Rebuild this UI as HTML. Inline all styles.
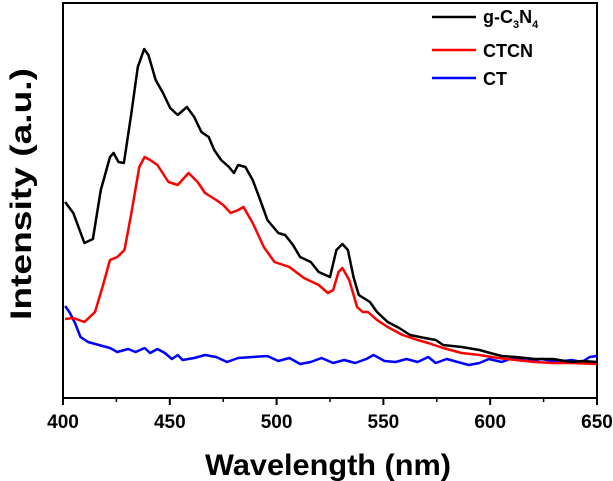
<!DOCTYPE html>
<html><head><meta charset="utf-8"><style>
body{margin:0;background:#fff;}
svg{display:block;font-family:"Liberation Sans",Arial,sans-serif;font-weight:bold;}
</style></head><body>
<svg id="chart" width="613" height="481" viewBox="0 0 613 481" xmlns="http://www.w3.org/2000/svg">
<rect x="63" y="3" width="534" height="395" fill="none" stroke="#000" stroke-width="2"/>
<g id="ticks"></g>
<g id="series"></g>
<text transform="translate(31,194) rotate(-90)" text-anchor="middle" font-size="30" textLength="252" lengthAdjust="spacingAndGlyphs">Intensity (a.u.)</text>
<text x="328" y="475" text-anchor="middle" font-size="30" textLength="246" lengthAdjust="spacingAndGlyphs">Wavelength (nm)</text>
<g>
<line x1="432" y1="17" x2="476" y2="17" stroke="#000" stroke-width="2.5"/>
<text x="483" y="23" font-size="18">g-C<tspan font-size="11" dy="5">3</tspan><tspan dy="-5">N</tspan><tspan font-size="11" dy="5">4</tspan></text>
<line x1="432" y1="50" x2="476" y2="50" stroke="#f00" stroke-width="2.5"/>
<text x="483" y="57" font-size="18">CTCN</text>
<line x1="432" y1="78" x2="476" y2="78" stroke="#00f" stroke-width="2.5"/>
<text x="483" y="85" font-size="18">CT</text>
</g>
</svg>
<script>
const xTicks=[400,450,500,550,600,650];
const xMinor=[425,475,525,575,625];
const wlBlack=[401,404.8,410,414,417.7,422,423.7,426,428.5,432,435,438,440,443.4,446.8,450.2,453.7,458,461.4,464.8,468.2,470.8,474,477.7,480,482,485.4,488.8,492.3,495.7,500.8,504,507.7,511,516,519.7,525,528,530.8,533.4,536,538.5,543.7,547,552,557.4,562.5,569.4,574.5,578,586.6,595,600,605.4,612,620.8,629.4,638,643,650];
const intBlack=[196,185,155,159,208,241,245,236,235,285,331,349,343,318,305,290,283,291,281,266,261,248,238,231,225,233,231,218,198,178,165,163,153,141,136,126,121,148,154,148,121,103,96,86,76,70,63,60,58,53,51,48,45,42,41,39,39,36,37,36];
const wlRed=[401,404.8,410,415,418.5,422,425.4,428.8,432,435.7,438.2,440.8,444.2,449.4,453.7,458.8,463,466.5,471.7,475,478.5,482,484.5,488.8,494,499,506,512.8,519.7,524,526.5,529,530.8,534,537.7,540.3,542.8,547,552,559,566,571,578,586.6,595,603.7,612,620.8,629.4,638,650];
const intRed=[79,80,76,86,111,138,141,148,185,231,241,238,233,216,213,225,216,205,198,193,185,188,191,175,151,136,131,120,113,105,108,126,130,118,91,86,86,78,71,63,58,55,50,45,43,40,38,36,35,35,34];
const wlBlue=[401,403,405.6,408.2,411.7,416.8,422,425.4,430.5,434,438.2,440.8,444.2,447.7,451,453.7,456,461.4,466.5,471.7,476.8,482,488.8,495.7,500.8,506,511,516,521,526.5,531.7,536.8,542,545.4,550.5,555.7,560.8,566,571,574.5,579.7,584.8,590,595,599.4,605.4,610.6,617.4,624.3,631,638,643,646.6,650];
const intBlue=[92,86,75,61,56,53,50,46,49,46,50,45,49,45,39,43,38,40,43,41,36,40,41,42,37,40,34,36,40,35,38,35,39,43,37,36,39,36,41,35,39,36,33,35,39,36,40,37,39,36,38,36,41,42];
const NS='http://www.w3.org/2000/svg';
const xS=w=>63+(w-400)*(534/250);
const yS=v=>398-v;
const tg=document.getElementById('ticks');
xTicks.forEach(t=>{
  const l=document.createElementNS(NS,'line');
  
  
  l.setAttribute('x1',xS(t));l.setAttribute('x2',xS(t));l.setAttribute('y1',398);l.setAttribute('y2',405);
  l.setAttribute('stroke','#000');l.setAttribute('stroke-width','2');tg.appendChild(l);
  const tx=document.createElementNS(NS,'text');
  
  
  tx.setAttribute('x',xS(t));tx.setAttribute('y',428);tx.setAttribute('text-anchor','middle');tx.setAttribute('font-size','19');
  tx.textContent=t;tg.appendChild(tx);
});
xMinor.forEach(t=>{
  const l=document.createElementNS(NS,'line');
  
  
  l.setAttribute('x1',xS(t));l.setAttribute('x2',xS(t));l.setAttribute('y1',398);l.setAttribute('y2',402);
  l.setAttribute('stroke','#000');l.setAttribute('stroke-width','1.5');tg.appendChild(l);
});
const sg=document.getElementById('series');
function draw(wl,iv,color,name){
  const p=document.createElementNS(NS,'polyline');
  
  
  p.setAttribute('points',wl.map((w,i)=>xS(w).toFixed(1)+','+yS(iv[i]).toFixed(1)).join(' '));
  p.setAttribute('fill','none');p.setAttribute('stroke',color);p.setAttribute('stroke-width','2.5');p.setAttribute('stroke-linejoin','round');
  sg.appendChild(p);
}
draw(wlBlue,intBlue,'#00f','series-ct');
draw(wlRed,intRed,'#f00','series-ctcn');
draw(wlBlack,intBlack,'#000','series-gc3n4');
</script>
</body></html>
